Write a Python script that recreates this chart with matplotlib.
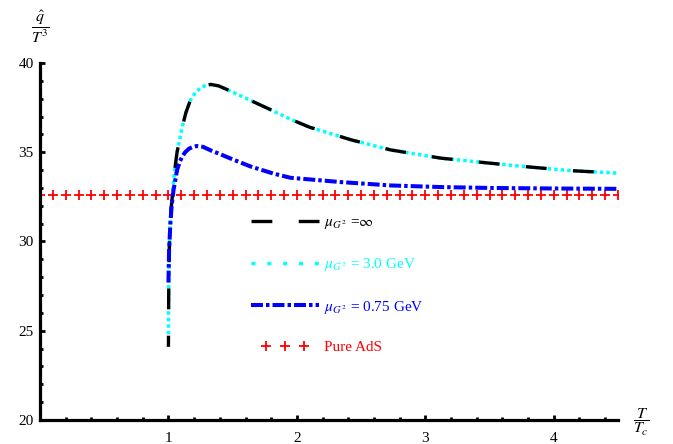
import numpy as np
import matplotlib
matplotlib.use("Agg")
import matplotlib.pyplot as plt
from matplotlib.lines import Line2D
from matplotlib.legend_handler import HandlerLine2D
from matplotlib.ticker import MultipleLocator, FixedLocator

plt.rcParams['font.family'] = ['Liberation Serif', 'DejaVu Serif']
plt.rcParams['mathtext.fontset'] = 'stix'
plt.rcParams['lines.scale_dashes'] = False

# ---- data ----
T_inf = [1.0, 1.002, 1.005, 1.01, 1.02, 1.03, 1.045, 1.067, 1.09, 1.107, 1.135, 1.17, 1.21,
         1.25, 1.29, 1.33, 1.39, 1.46, 1.55, 1.64, 1.82, 1.95, 2.1, 2.42, 2.73, 3.12, 3.5,
         3.77, 4.13, 4.5]
q_inf = [24.1, 27.0, 29.0, 30.5, 31.8, 32.5, 33.8, 35.0, 35.8, 36.4, 37.2, 37.9, 38.35,
         38.6, 38.75, 38.8, 38.72, 38.5, 38.2, 37.9, 37.3, 36.85, 36.4, 35.7, 35.13, 34.67,
         34.39, 34.2, 33.97, 33.83]

T_3gev = T_inf
q_3gev = [24.8] + q_inf[1:]

T_075 = [1.0, 1.005, 1.015, 1.025, 1.04, 1.067, 1.09, 1.107, 1.13, 1.16, 1.19, 1.22, 1.27,
         1.33, 1.4, 1.48, 1.64, 1.82, 1.95, 2.34, 2.73, 3.12, 3.5, 4.0, 4.5]
q_075 = [27.7, 29.5, 31.0, 32.0, 32.9, 34.0, 34.5, 34.75, 35.0, 35.2, 35.3, 35.35, 35.3,
         35.1, 34.9, 34.66, 34.2, 33.8, 33.57, 33.33, 33.14, 33.05, 33.0, 32.97, 32.95]

T_ads = np.round(np.arange(0.0, 4.55, 0.1), 1)
q_ads_value = 32.6

labels = [r'$\mu_{G^2}$ =$\infty$', r'$\mu_{G^2}$ = 3.0 GeV',
          r'$\mu_{G^2}$ = 0.75 GeV', 'Pure AdS']
colors = ['#000000', '#00FFFF', '#0000FF', '#FF0000']

# ---- figure ----
fig = plt.figure(figsize=(6.73, 4.44), dpi=100)
ax = fig.add_axes([40/673, 24/444, 578/673, 357/444])

ax.plot(T_ads, np.full(len(T_ads), q_ads_value), linestyle='none', marker='+',
        color=colors[3], markersize=6.5, markeredgewidth=1.3, zorder=1)
ax.plot(T_3gev, q_3gev, color=colors[1], lw=2.5, dashes=(2.5, 2.2), zorder=2)
ax.plot(T_inf, q_inf, color=colors[0], lw=2.4, linestyle=(7, (15, 19)), zorder=3)
ax.plot(T_075, q_075, color=colors[2], lw=2.9, dashes=(8.6, 2.2, 2.5, 2.2), zorder=4)

ax.set_xlim(0, 4.5)
ax.set_ylim(20, 40)

for s in ['top', 'right']:
    ax.spines[s].set_visible(False)
for s in ['left', 'bottom']:
    ax.spines[s].set_linewidth(2.3)

ax.xaxis.set_major_locator(FixedLocator([1, 2, 3, 4]))
ax.xaxis.set_minor_locator(MultipleLocator(0.2))
ax.yaxis.set_major_locator(MultipleLocator(5))
ax.yaxis.set_minor_locator(MultipleLocator(1))
ax.tick_params(which='both', direction='in', width=2.0, labelsize=11)
ax.tick_params(which='major', length=3.8)
ax.tick_params(which='minor', length=2.2)
ax.tick_params(axis='y', which='major', pad=4.5)
ax.tick_params(axis='x', which='major', pad=8.5)

ax.set_ylabel(r'$\dfrac{\hat{q}}{T^3}$', rotation=0, fontsize=11.5, va='center', ha='center')
ax.yaxis.set_label_coords(0.0, 1.10)
ax.set_xlabel(r'$\dfrac{T}{T_c}$', fontsize=11.5, va='center', ha='center')
ax.xaxis.set_label_coords(1.041, -0.006)

# legend
h_inf = Line2D([], [], color=colors[0], lw=2.4, dashes=(15, 19))
h_3 = Line2D([], [], color=colors[1], lw=2.5, dashes=(2.9, 8.5))
h_075 = Line2D([], [], color=colors[2], lw=2.9, dashes=(8.6, 2.2, 2.5, 2.2))
h_ads = Line2D([], [], color=colors[3], linestyle='none', marker='+',
               markersize=6.5, markeredgewidth=1.3)
leg = ax.legend([h_inf, h_3, h_075, h_ads], labels, loc='upper left',
                bbox_to_anchor=(0.365, 0.573), frameon=False, fontsize=11,
                handlelength=4.45, handletextpad=0.3, labelspacing=1.65,
                borderpad=0, borderaxespad=0,
                handler_map={h_ads: HandlerLine2D(numpoints=3, marker_pad=1.0)})
for t, c in zip(leg.get_texts(), colors):
    t.set_color(c)

fig.savefig('out.png', dpi=100)
